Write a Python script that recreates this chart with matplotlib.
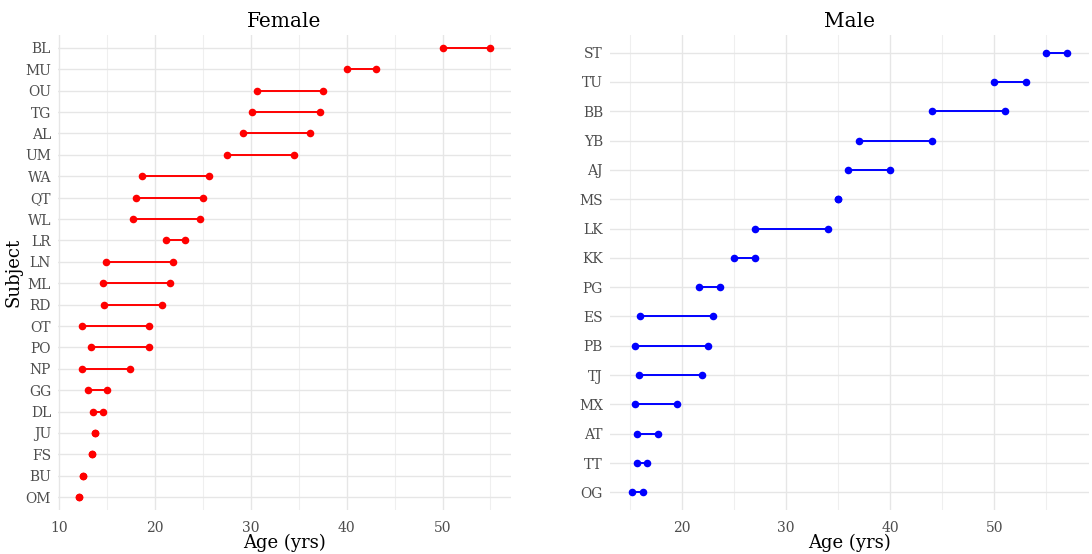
import matplotlib.pyplot as plt
import numpy as np
from matplotlib.ticker import MultipleLocator

plt.rcParams['font.family'] = ['DejaVu Serif']

# Age at first and last visit, listed top row first
female_subjects = ['BL', 'MU', 'OU', 'TG', 'AL', 'UM', 'WA', 'QT', 'WL', 'LR', 'LN',
                   'ML', 'RD', 'OT', 'PO', 'NP', 'GG', 'DL', 'JU', 'FS', 'BU', 'OM']
female_start = [50.0, 40.0, 30.6, 30.1, 29.2, 27.5, 18.6, 18.0, 17.7, 21.1, 14.9,
                14.5, 14.7, 12.4, 13.3, 12.4, 13.0, 13.5, 13.7, 13.4, 12.5, 12.0]
female_end = [55.0, 43.0, 37.5, 37.2, 36.2, 34.5, 25.6, 25.0, 24.7, 23.1, 21.9,
              21.5, 20.7, 19.4, 19.4, 17.4, 15.0, 14.5, 13.7, 13.4, 12.5, 12.0]

male_subjects = ['ST', 'TU', 'BB', 'YB', 'AJ', 'MS', 'LK', 'KK', 'PG', 'ES', 'PB',
                 'TJ', 'MX', 'AT', 'TT', 'OG']
male_start = [55.0, 50.0, 44.0, 37.0, 36.0, 35.0, 27.0, 25.0, 21.7, 16.0, 15.5,
              15.9, 15.5, 15.7, 15.7, 15.2]
male_end = [57.0, 53.0, 51.0, 44.0, 40.0, 35.0, 34.0, 27.0, 23.7, 23.0, 22.5,
            21.9, 19.5, 17.7, 16.7, 16.3]

fig = plt.figure(figsize=(10.92, 5.54), dpi=100)
ax_f = fig.add_axes([0.0531, 0.0794, 0.4149, 0.8574])
ax_m = fig.add_axes([0.5586, 0.0794, 0.4387, 0.8574])


def dumbbell(ax, subjects, start, end, color, title):
    n = len(subjects)
    y = np.arange(n)[::-1]
    ax.hlines(y, start, end, color=color, lw=1.4, zorder=3)
    ax.scatter(start, y, s=30, color=color, zorder=4, linewidths=0)
    ax.scatter(end, y, s=30, color=color, zorder=4, linewidths=0)
    ax.set_yticks(y)
    ax.set_yticklabels(subjects)
    lo = min(start)
    hi = max(end)
    pad = (hi - lo) * 0.05
    ax.set_xlim(lo - pad, hi + pad)
    ax.set_ylim(-0.6, n - 1 + 0.6)
    ax.xaxis.set_major_locator(MultipleLocator(10))
    ax.xaxis.set_minor_locator(MultipleLocator(5))
    ax.set_axisbelow(True)
    ax.grid(True, which='major', color='#E6E6E6', lw=1.0)
    ax.grid(True, which='minor', axis='x', color='#EFEFEF', lw=0.8)
    for s in ax.spines.values():
        s.set_visible(False)
    ax.tick_params(which='both', length=0, labelsize=10, labelcolor='#4D4D4D')
    ax.tick_params(axis='x', pad=8)
    ax.tick_params(axis='y', pad=5)
    ax.set_title(title, fontsize=14.5, pad=6)
    ax.set_xlabel('Age (yrs)', fontsize=13, labelpad=-1)


dumbbell(ax_f, female_subjects, female_start, female_end, '#FF0000', 'Female')
dumbbell(ax_m, male_subjects, male_start, male_end, '#0000FF', 'Male')
ax_f.set_ylabel('Subject', fontsize=13, labelpad=2)

plt.savefig('out.png', dpi=100)
